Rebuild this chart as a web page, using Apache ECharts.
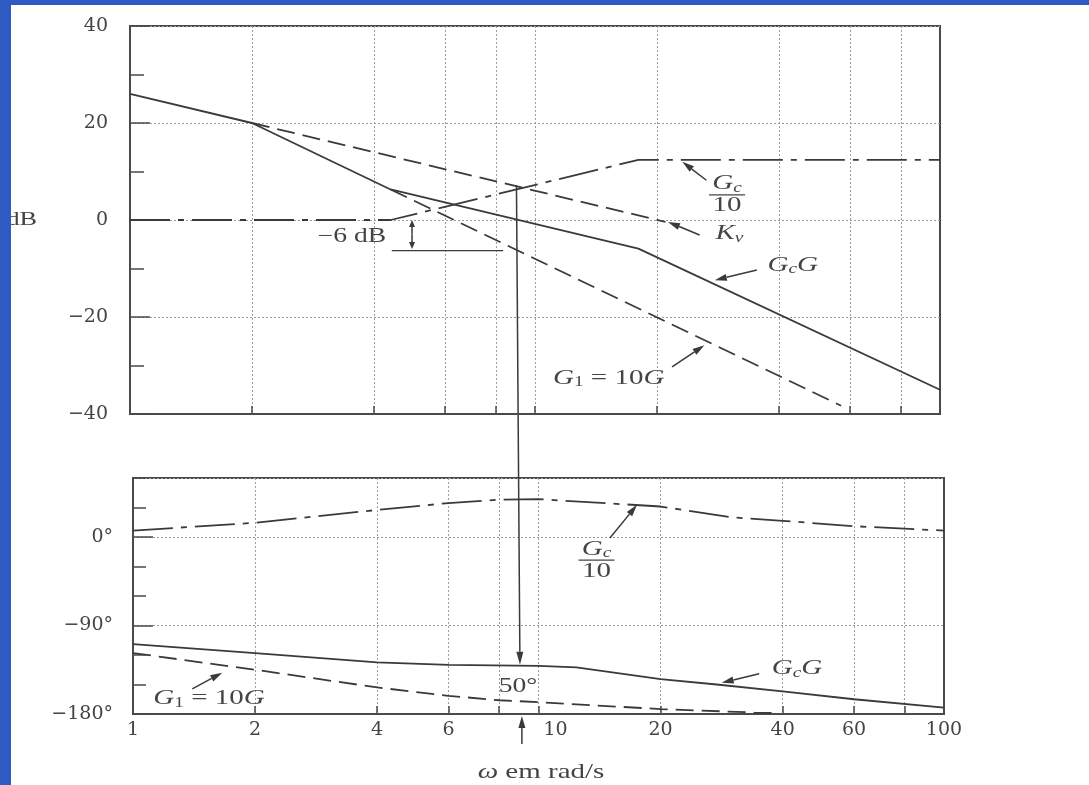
<!DOCTYPE html>
<html>
<head>
<meta charset="utf-8">
<script src="https://cdn.jsdelivr.net/npm/echarts@6/dist/echarts.min.js"></script>
<style>
html, body { margin: 0; padding: 0; background: #fff; }
#main { width: 1089px; height: 785px; }
</style>
</head>
<body>
<div id="main"></div>
<script>
// magnitude curves (rad/s , dB)
var w_GcG  = [1, 2, 4.4, 18, 100];
var db_GcG = [26, 20, 6.3, -5.9, -35];
var w_Kv   = [2, 21];
var db_Kv  = [20, -0.4];
var w_G1   = [4.4, 57];
var db_G1  = [6.3, -38.3];
var w_Gc   = [1, 4.4, 18, 100];
var db_Gc  = [0, 0, 12.4, 12.4];

// phase curves (rad/s , degrees)
var wp_Gc   = [1, 2, 4, 6, 8, 10, 20, 30, 40, 60, 100];
var ph_Gc   = [6.5, 14.5, 27.5, 34.5, 38, 38.5, 31, 20, 16.5, 11, 6.5];
var wp_GcG  = [1, 2, 4, 6, 10, 12.4, 20, 27.5, 40, 60, 100];
var ph_GcG  = [-109, -118, -127.5, -130, -131, -132.5, -144.5, -150, -157, -165, -173.5];
var wp_G1   = [1, 2, 4, 6, 8, 10, 20, 34, 39];
var ph_G1   = [-118, -135, -153, -161.5, -166, -168, -175, -178.5, -179];

// axis ticks
var gridW   = [2, 4, 6, 8, 10, 20, 40, 60, 80];
var xLabels = [1, 2, 4, 6, 10, 20, 40, 60, 100];
var wCross  = 9;     // crossover frequency
var pmPhase = -130;  // phase there

var ink = '#3a3a3a', txt = '#444', serif = 'DejaVu Serif', times = 'Liberation Serif';
var SX = 1.38;  // the scanned figure is stretched sideways

function pairs(xs, ys){
	return xs.map(function(x, i){ return [x, ys[i]]; });
}

function minus(v){ return v < 0 ? '\u2212' + (-v) : '' + v; }

var chart = echarts.init(document.getElementById('main'));

var dotted = { show: true, lineStyle: { color: '#9a9a9a', width: 1, type: [2, 2] } };
var frameLine = { show: true, onZero: false, lineStyle: { color: '#4a4a4a', width: 2 } };

function xAxisOf(g, withLabels){
	return {
		type: 'log', logBase: 10, min: 1, max: 100, gridIndex: g,
		axisLine: frameLine,
		axisTick: { show: true, inside: true, length: 8, customValues: gridW, lineStyle: { color: '#4a4a4a', width: 1.5 } },
		axisLabel: withLabels ? {
			show: true, customValues: xLabels, margin: 7, color: txt, fontFamily: serif, fontSize: 19,
			formatter: function(v){ return v == 10 ? '{o|10}' : '' + v; },
			rich: { o: { padding: [0, 0, 0, 34], color: txt, fontFamily: serif, fontSize: 19 } }
		} : { show: false },
		splitLine: dotted
	};
}

var option = {
	animation: false,
	backgroundColor: '#fff',
	grid: [
		{ left: 130, right: 149, top: 26, height: 388, show: true, borderColor: '#4a4a4a', borderWidth: 2 },
		{ left: 133, right: 145, top: 478, height: 236, show: true, borderColor: '#4a4a4a', borderWidth: 2 }
	],
	xAxis: [ xAxisOf(0, false), xAxisOf(1, true) ],
	yAxis: [
		{
			gridIndex: 0, min: -40, max: 40, interval: 20, position: 'left',
			axisLine: frameLine,
			axisTick: { show: true, inside: true, length: 20, lineStyle: { color: '#4a4a4a', width: 1.5 } },
			minorTick: { show: true, splitNumber: 2, length: 14, lineStyle: { color: '#4a4a4a', width: 1.5 } },
			axisLabel: { margin: 22, color: txt, fontFamily: serif, fontSize: 19, formatter: minus },
			splitLine: dotted
		},
		{
			gridIndex: 1, min: -180, max: 60, interval: 90, position: 'left',
			axisLine: frameLine,
			axisTick: { show: true, inside: true, length: 20, lineStyle: { color: '#4a4a4a', width: 1.5 } },
			axisLabel: { margin: 20, color: txt, fontFamily: serif, fontSize: 19, showMaxLabel: false,
				formatter: function(v){ return v > 0 ? '' : minus(v) + '\u00b0'; } },
			splitLine: dotted
		},
		{
			gridIndex: 1, min: -180, max: 60, interval: 30, position: 'left', offset: 0,
			axisLine: { show: false, onZero: false },
			axisTick: { show: true, inside: true, length: 13, lineStyle: { color: '#4a4a4a', width: 1.5 } },
			axisLabel: { show: false },
			splitLine: { show: false }
		}
	],
	series: [
		{ type: 'line', xAxisIndex: 0, yAxisIndex: 0, data: pairs(w_GcG, db_GcG), showSymbol: false,
		  lineStyle: { color: ink, width: 1.8 } },
		{ type: 'line', xAxisIndex: 0, yAxisIndex: 0, data: pairs(w_Kv, db_Kv), showSymbol: false,
		  lineStyle: { color: ink, width: 1.8, type: [18, 8] } },
		{ type: 'line', xAxisIndex: 0, yAxisIndex: 0, data: pairs(w_G1, db_G1), showSymbol: false,
		  lineStyle: { color: ink, width: 1.8, type: [18, 8] } },
		{ type: 'line', xAxisIndex: 0, yAxisIndex: 0, data: pairs(w_Gc, db_Gc), showSymbol: false,
		  lineStyle: { color: ink, width: 1.8, type: [40, 8, 6, 8] } },
		{ type: 'line', xAxisIndex: 1, yAxisIndex: 1, data: pairs(wp_Gc, ph_Gc), showSymbol: false,
		  lineStyle: { color: ink, width: 1.8, type: [40, 8, 6, 8] } },
		{ type: 'line', xAxisIndex: 1, yAxisIndex: 1, data: pairs(wp_GcG, ph_GcG), showSymbol: false,
		  lineStyle: { color: ink, width: 1.8 } },
		{ type: 'line', xAxisIndex: 1, yAxisIndex: 1, data: pairs(wp_G1, ph_G1), showSymbol: false,
		  lineStyle: { color: ink, width: 1.8, type: [18, 8] } }
	]
};

chart.setOption(option);

// ---- annotations, placed from data coordinates ----
function P(g, w, v){
	return chart.convertToPixel({ xAxisIndex: g, yAxisIndex: g }, [w, v]);
}

function arrow(a, b, hl, hw){
	hl = hl || 12; hw = hw || 3.5;
	var dx = b[0] - a[0], dy = b[1] - a[1], L = Math.sqrt(dx * dx + dy * dy);
	var ux = dx / L, uy = dy / L;
	var bx = b[0] - ux * hl, by = b[1] - uy * hl;
	return [
		{ type: 'line', shape: { x1: a[0], y1: a[1], x2: bx, y2: by }, style: { stroke: ink, lineWidth: 1.5 } },
		{ type: 'polygon', shape: { points: [[b[0], b[1]], [bx - uy * hw, by + ux * hw], [bx + uy * hw, by - ux * hw]] },
		  style: { fill: ink } }
	];
}

function seg(a, b, w){
	return { type: 'line', shape: { x1: a[0], y1: a[1], x2: b[0], y2: b[1] }, style: { stroke: ink, lineWidth: w || 1.5 } };
}

var rich = {
	g: { fontFamily: times, fontStyle: 'italic', fontSize: 21, fill: txt },
	n: { fontFamily: times, fontSize: 21, fill: txt },
	s: { fontFamily: times, fontStyle: 'italic', fontSize: 14, fill: txt, padding: [9, 0, 0, 0] },
	u: { fontFamily: times, fontSize: 14, fill: txt, padding: [9, 0, 0, 0] }
};

function label(p, str, align){
	return { type: 'text', x: p[0], y: p[1], scaleX: SX,
		style: { text: str, rich: rich, align: align || 'center', verticalAlign: 'middle', fill: txt } };
}

function plain(p, str, size, align){
	return { type: 'text', x: p[0], y: p[1], scaleX: SX,
		style: { text: str, fontSize: size, fontFamily: times, fill: txt, align: align || 'center', verticalAlign: 'middle' } };
}

function frac(p){
	// G_c over 10 with a bar
	return [
		label([p[0], p[1] - 11], '{g|G}{s|c}'),
		{ type: 'line', shape: { x1: p[0] - 18, y1: p[1], x2: p[0] + 18, y2: p[1] }, style: { stroke: txt, lineWidth: 1.3 } },
		label([p[0], p[1] + 11], '{n|10}')
	];
}

var G = [];

// upper plot
G = G.concat(arrow(P(0, 26.5, 8.2), P(0, 23.1, 12.0)));
G = G.concat(frac(P(0, 29.8, 5.2)));
G = G.concat(arrow(P(0, 25.5, -3.1), P(0, 21.3, -0.4)));
G.push(label(P(0, 30.2, -2.8), '{g|K}{s|v}'));
G = G.concat(arrow(P(0, 35.3, -10.3), P(0, 27.8, -12.4)));
G.push(label(P(0, 43.3, -9.3), '{g|G}{s|c}{g|G}'));
G = G.concat(arrow(P(0, 21.8, -30.3), P(0, 26.2, -25.8)));
G.push(label(P(0, 15.2, -32.6), '{g|G}{u|1}{n| = 10}{g|G}'));

// -6 dB marker
var m0 = P(0, 4.97, 0), m1 = P(0, 4.97, -6);
var mid = [m0[0], (m0[1] + m1[1]) / 2];
G = G.concat(arrow(mid, m0, 7, 3));
G = G.concat(arrow(mid, m1, 7, 3));
G.push(seg(P(0, 4.43, -6.3), P(0, 8.34, -6.3), 1.2));
G.push(plain(P(0, 3.53, -3.5), '\u22126 dB', 20));

// crossover drop line into the phase plot
var c0 = P(0, wCross, 7.2), c1 = P(1, wCross, pmPhase);
G = G.concat(arrow(c0, c1, 13, 3.5));

// lower plot
G = G.concat(arrow(P(1, 15.0, -1), P(1, 17.5, 32.7)));
G = G.concat(frac(P(1, 13.9, -23.5)));
G = G.concat(arrow(P(1, 35, -139), P(1, 28.3, -148.3)));
G.push(label(P(1, 43.4, -134), '{g|G}{s|c}{g|G}'));
G = G.concat(arrow(P(1, 1.4, -154.4), P(1, 1.66, -138)));
G.push(label(P(1, 1.54, -164.7), '{g|G}{u|1}{n| = 10}{g|G}'));
G.push(plain(P(1, 8.9, -152.4), '50\u00b0', 20));

// arrow under the axis at the crossover
var b0 = P(1, 9.1, -180);
G = G.concat(arrow([b0[0], b0[1] + 30], [b0[0], b0[1] + 2], 12, 3.5));

// axis title
G.push({ type: 'text', x: 541, y: 772, scaleX: SX,
	style: { text: '{w|\u03c9} em rad/s', fontSize: 21, fontFamily: times, fill: txt, align: 'center', verticalAlign: 'middle',
		rich: { w: { fontFamily: times, fontStyle: 'italic', fontSize: 21, fill: txt } } } });

// dB unit, partly under the frame
var dbl = plain([37, 220], 'dB', 19, 'right');
dbl.z = 50;
G.push(dbl);

// blue slide frame
G.push({ type: 'rect', x: 0, y: 0, z: 100, shape: { width: 11, height: 785 }, style: { fill: '#2F5AC4' } });
G.push({ type: 'rect', x: 0, y: 0, z: 100, shape: { width: 1089, height: 5 }, style: { fill: '#2F5AC4' } });

chart.setOption({ graphic: G });
</script>
</body>
</html>
